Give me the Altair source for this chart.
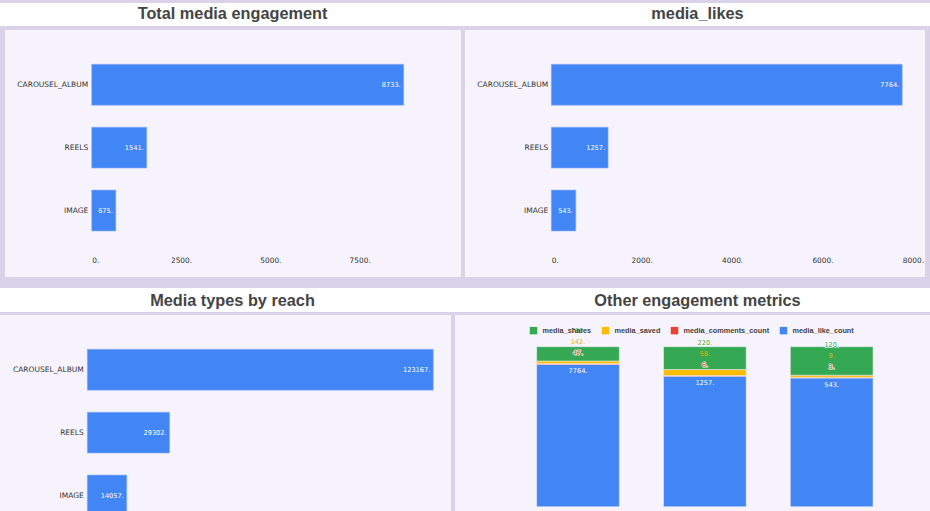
import altair as alt
import pandas as pd

# ---------------- data ----------------
media_types = ["CAROUSEL_ALBUM", "REELS", "IMAGE"]
total_engagement = [8733, 1541, 675]
media_likes = [7764, 1257, 543]
media_reach = [123167, 29302, 14057]

like_count = [7764, 1257, 543]
comments_count = [47, 6, 3]
saved_count = [142, 58, 9]
shares_count = [780, 220, 120]

metric_names = ["media_shares", "media_saved", "media_comments_count", "media_like_count"]
metric_colors = ["#34a853", "#fbbc04", "#ea4335", "#4285f4"]

titles_top = ["Total media engagement", "media_likes"]
titles_bottom = ["Media types by reach", "Other engagement metrics"]

ticks_engagement = [0, 2500, 5000, 7500]
ticks_likes = [0, 2000, 4000, 6000, 8000]
ticks_pct = [0, 0.25, 0.5, 0.75, 1.0]

# ---------------- style ----------------
PAGE = "#d9d2e9"
PANEL = "#f7f3fc"
BLUE = "#4285f4"
FONT = "DejaVu Sans"
TITLE_FONT = "Liberation Sans"
TXT = "#444444"
TICK = "#333333"


def title_row(titles, height, yc):
    df = pd.DataFrame({"pos": [0, 1], "title": titles})
    return (
        alt.Chart(df)
        .mark_text(font=TITLE_FONT, fontSize=16.3, fontWeight="bold", color=TXT, baseline="middle")
        .encode(
            x=alt.X("pos:O", scale=alt.Scale(type="point", padding=0.5), axis=None),
            y=alt.value(yc),
            text="title:N",
        )
        .properties(width=930, height=height, view=alt.ViewBackground(fill="white", stroke=None))
    )


def hbar_panel(values, width, height, x0, x1, dmax, ticks=None, label_end=83):
    df = pd.DataFrame({"type": media_types, "value": values, "label": [f"{v}." for v in values]})
    y = alt.Y(
        "type:N",
        sort=media_types,
        title=None,
        scale=alt.Scale(range=[23.25, 212], paddingInner=0.35, paddingOuter=0.175),
        axis=alt.Axis(domain=False, ticks=False, grid=False, labelPadding=3,
                      offset=-(label_end + 3), labelFont=FONT, labelFontSize=7.5,
                      labelColor=TICK),
    )
    if ticks is not None:
        xaxis = alt.Axis(values=ticks, labelExpr="datum.value + '.'", domain=False, ticks=False,
                         grid=False, labelPadding=2, offset=-22.5, title=None,
                         labelFont=FONT, labelFontSize=7.4, labelColor=TICK)
    else:
        xaxis = None
    x = alt.X("value:Q", title=None, axis=xaxis,
              scale=alt.Scale(domain=[0, dmax], range=[x0, x1], nice=False, zero=True))
    bars = alt.Chart(df).mark_bar(color=BLUE, stroke="#8fb4f8", strokeWidth=0.6, clip=True).encode(x=x, y=y)
    text = (
        alt.Chart(df)
        .mark_text(align="right", baseline="middle", dx=-3, color="white", font=FONT, fontSize=6.6, clip=True)
        .encode(x=alt.X("value:Q"), y=alt.Y("type:N", sort=media_types), text="label:N")
    )
    return alt.layer(bars, text).properties(
        width=width, height=height, view=alt.ViewBackground(fill=PANEL, stroke=None)
    )


# ---- stacked normalized panel ----
rows = []
for i, t in enumerate(media_types):
    for name, vals, order in [
        ("media_like_count", like_count, 0),
        ("media_comments_count", comments_count, 1),
        ("media_saved", saved_count, 2),
        ("media_shares", shares_count, 3),
    ]:
        rows.append({"type": t, "metric": name, "value": vals[i], "order": order})
stack_df = pd.DataFrame(rows)

totals = [a + b + c + d for a, b, c, d in zip(like_count, comments_count, saved_count, shares_count)]
lab_df = pd.DataFrame({
    "type": media_types,
    "like_end": [l / t for l, t in zip(like_count, totals)],
    "comm_end": [(l + c) / t for l, c, t in zip(like_count, comments_count, totals)],
    "like_lab": [f"{v}." for v in like_count],
    "comm_lab": [f"{v}." for v in comments_count],
    "saved_lab": [f"{v}." for v in saved_count],
    "shares_lab": [f"{v}." for v in shares_count],
})

xs = alt.X("type:N", sort=media_types, axis=None, title=None,
           scale=alt.Scale(range=[59.6, 440.1], paddingInner=0.348, paddingOuter=0.174))
ys_scale = alt.Scale(domain=[0, 1], range=[191.7, 31.7], nice=False)

stack_bars = (
    alt.Chart(stack_df)
    .mark_bar(stroke=PANEL, strokeWidth=0.5, clip=True)
    .encode(
        x=xs,
        y=alt.Y("value:Q", stack="normalize", scale=ys_scale, title=None,
                axis=alt.Axis(values=ticks_pct, format=".0%", domain=False, ticks=False, grid=False,
                              labelPadding=3, offset=-36.3, labelFont=FONT, labelFontSize=7.4,
                              labelColor=TICK)),
        color=alt.Color(
            "metric:N",
            scale=alt.Scale(domain=metric_names, range=metric_colors),
            # legend of a concatenated chart is placed relative to the whole chart
            legend=alt.Legend(orient="none", legendX=529.5, legendY=323.5, direction="horizontal",
                              title=None, symbolType="square", symbolSize=56, symbolStrokeWidth=0,
                              symbolOpacity=1, labelFont=TITLE_FONT, labelFontSize=7.3,
                              labelFontWeight="bold", labelColor=TXT, columnPadding=10,
                              labelOffset=5, padding=0, zindex=1),
        ),
        order=alt.Order("order:Q"),
    )
)

xt = alt.X("type:N", sort=media_types)


def stack_text(field, yfield, color, dy, halo=False):
    layers = []
    if halo:
        layers.append(
            alt.Chart(lab_df)
            .mark_text(font=FONT, fontSize=6.6, baseline="middle", dy=dy, color="#fbe3e1",
                       stroke="#ffffff", strokeWidth=1.4, strokeJoin="round", strokeOpacity=0.8)
            .encode(x=xt, y=alt.Y(f"{yfield}:Q", axis=None), text=f"{field}:N")
        )
    layers.append(
        alt.Chart(lab_df)
        .mark_text(font=FONT, fontSize=6.6, baseline="middle", dy=dy, color=color)
        .encode(x=xt, y=alt.Y(f"{yfield}:Q", axis=None), text=f"{field}:N")
    )
    return layers


text_layers = (
    stack_text("like_lab", "like_end", "white", 7)
    + stack_text("comm_lab", "comm_end", "#ea4335", -10.5, halo=True)
    + stack_text("saved_lab", "comm_end", "#f2b000", -21.5)
    + stack_text("shares_lab", "comm_end", "#34a853", -32.5, halo=True)
)

p4 = alt.layer(stack_bars, *text_layers).properties(
    width=475, height=196, view=alt.ViewBackground(fill=PANEL, stroke=None)
)

# ---- panels ----
p1 = hbar_panel(total_engagement, 456, 247, 86.7, 86.7 + 9193 * 0.03573, 9193, ticks_engagement, 82.7)
p2 = hbar_panel(media_likes, 460, 247, 86.3, 86.3 + 8173 * 0.0452, 8173, ticks_likes, 82.7)
p3 = hbar_panel(media_reach, 451, 196, 87.3, 87.3 + 129649 * 0.002809, 129649, None, 83.3)

spacer = (
    alt.Chart(pd.DataFrame({"a": [0]}))
    .mark_rect(opacity=0)
    .encode(x=alt.value(0), x2=alt.value(1), y=alt.value(0), y2=alt.value(1))
    .properties(width=1, height=247)
)

t1 = title_row(titles_top, 23, 11.3)
t2 = title_row(titles_bottom, 24, 12.7)

row1 = alt.hconcat(spacer, p1, p2, spacing=4)
row2 = alt.hconcat(p3, p4, spacing=4)
top = alt.vconcat(t1, row1, spacing=4)
mid = alt.vconcat(top, t2, spacing=11)
chart = (
    alt.vconcat(mid, row2, spacing=3)
    .properties(background=PAGE, padding={"top": 3, "left": 0, "right": 0, "bottom": 0})
    .configure_view(stroke=None)
)

chart.save("out.html", embed_options={"renderer": "svg", "actions": False})
